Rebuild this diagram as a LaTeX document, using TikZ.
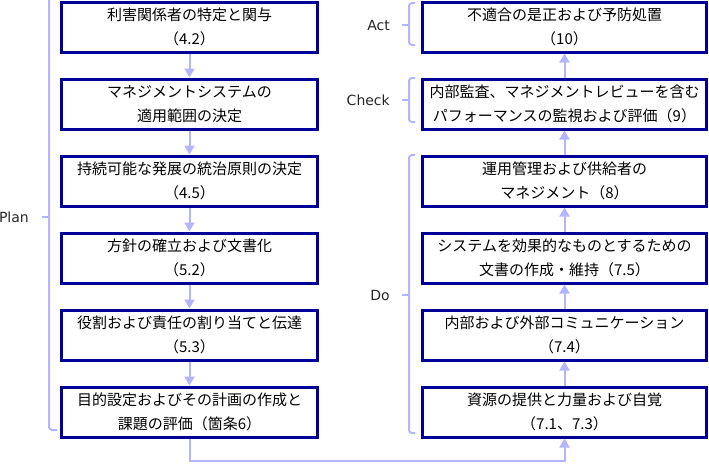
\documentclass[tikz,border=0pt]{standalone}
\usepackage{fontspec}
\newfontfamily\jpfont{Noto Sans CJK JP}
\newfontfamily\labfont{DejaVu Sans}
\usetikzlibrary{arrows.meta}
\definecolor{boxblue}{HTML}{000099}
\definecolor{linkblue}{HTML}{B4B4FF}

\begin{document}
\begin{tikzpicture}[x=1pt, y=-1pt,
		box/.style={shape=rectangle, draw=boxblue, line width=3pt, fill=white, align=center, minimum height=50pt, inner sep=0pt, font=\jpfont\fontsize{15}{24}\selectfont},
		leftbox/.style={box, minimum width=256pt},
		rightbox/.style={box, minimum width=284pt},
		flow/.style={-{Triangle[width=10pt,length=9pt]}, linkblue, line width=2pt},
		braceline/.style={linkblue, line width=2pt, rounded corners=3pt},
		phase/.style={font=\labfont\fontsize{14}{16}\selectfont, text=black!85, anchor=east, inner sep=0pt}]
		\useasboundingbox (0,0) rectangle (709,463);
		
		% Plan
		\node[leftbox] (P1) at (189.5,27) {利害関係者の特定と関与\\（4.2）};
		\node[leftbox] (P2) at (189.5,104) {マネジメントシステムの\\適用範囲の決定};
		\node[leftbox] (P3) at (189.5,181) {持続可能な発展の統治原則の決定\\（4.5）};
		\node[leftbox] (P4) at (189.5,258) {方針の確立および文書化\\（5.2）};
		\node[leftbox] (P5) at (189.5,335) {役割および責任の割り当てと伝達\\（5.3）};
		\node[leftbox] (P6) at (189.5,412) {目的設定およびその計画の作成と\\課題の評価（箇条6）};
		
		% Do, Check, Act
		\node[rightbox] (A) at (564.5,27) {不適合の是正および予防処置\\（10）};
		\node[rightbox] (C) at (564.5,104) {内部監査、マネジメントレビューを含む\\パフォーマンスの監視および評価（9）};
		\node[rightbox] (D4) at (564.5,181) {運用管理および供給者の\\マネジメント（8）};
		\node[rightbox] (D3) at (564.5,258) {システムを効果的なものとするための\\文書の作成・維持（7.5）};
		\node[rightbox] (D2) at (564.5,335) {内部および外部コミュニケーション\\（7.4）};
		\node[rightbox] (D1) at (564.5,412) {資源の提供と力量および自覚\\（7.1、7.3）};
		
		\path [flow] (P1) edge (P2);
		\path [flow] (P2) edge (P3);
		\path [flow] (P3) edge (P4);
		\path [flow] (P4) edge (P5);
		\path [flow] (P5) edge (P6);
		\draw [flow] (P6.south) -- ++(0,22.5) -| (D1.south);
		\path [flow] (D1) edge (D2);
		\path [flow] (D2) edge (D3);
		\path [flow] (D3) edge (D4);
		\path [flow] (D4) edge (C);
		\path [flow] (C) edge (A);
		
		% brackets
		\draw [braceline] (49,-2) -- (49,430) -- (57,430);
		\draw [braceline] (49,217) -- (42,217);
		\node[phase] (plan) at (29,217) {Plan};
		
		\draw [braceline] (415,3) -- (409,3) -- (409,45) -- (415,45);
		\draw [braceline] (409,25) -- (402,25);
		\node[phase] (act) at (390,25) {Act};
		
		\draw [braceline] (415,78) -- (409,78) -- (409,122) -- (415,122);
		\draw [braceline] (409,100) -- (402,100);
		\node[phase] (check) at (390,100) {Check};
		
		\draw [braceline] (415,155) -- (409,155) -- (409,433) -- (415,433);
		\draw [braceline] (409,295) -- (402,295);
		\node[phase] (do) at (390,295) {Do};
		
\end{tikzpicture}
\end{document}
